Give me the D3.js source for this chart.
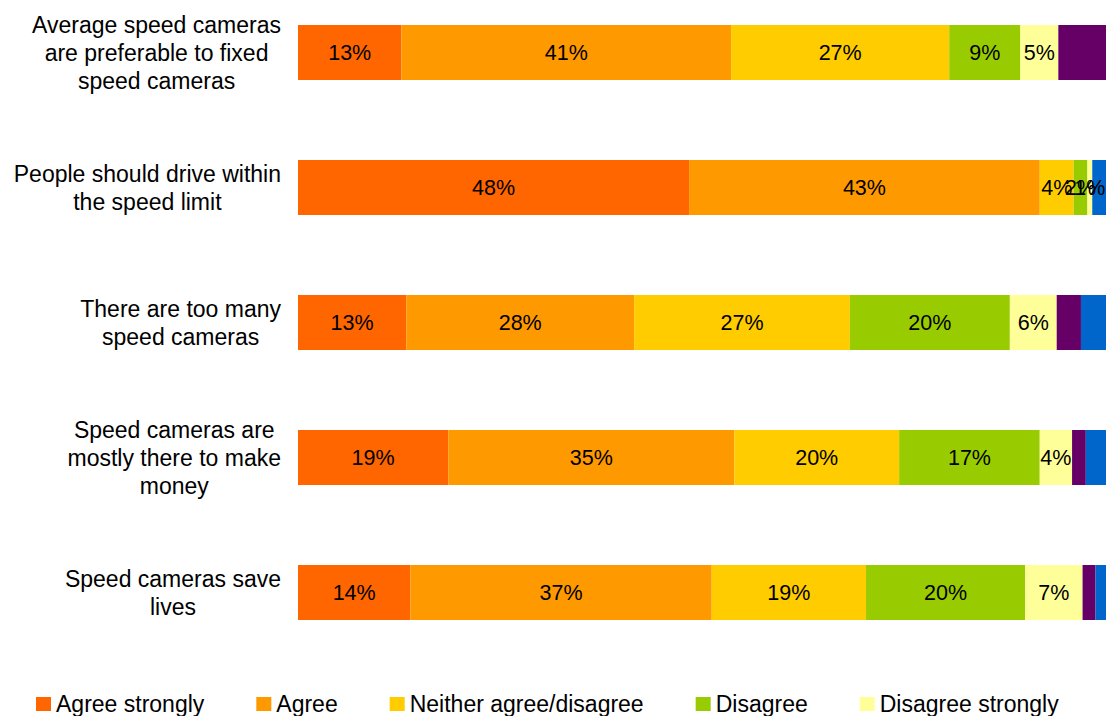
<!DOCTYPE html>
<html><head><meta charset="utf-8">
<script src="https://cdn.jsdelivr.net/npm/d3@7"></script>
<style>
html,body{margin:0;padding:0;background:#fff;overflow:hidden;}
svg{display:block;font-family:"Liberation Sans",Arial,sans-serif;}
</style></head>
<body>
<svg id="chart" width="1106" height="716"></svg>
<script>
const categories = [
  "Average speed cameras are preferable to fixed speed cameras",
  "People should drive within the speed limit",
  "There are too many speed cameras",
  "Speed cameras are mostly there to make money",
  "Speed cameras save lives"
];
const categoryLines = [
  ["Average speed cameras", "are preferable to fixed", "speed cameras"],
  ["People should drive within", "the speed limit"],
  ["There are too many", "speed cameras"],
  ["Speed cameras are", "mostly there to make", "money"],
  ["Speed cameras save", "lives"]
];
const seriesNames = ["Agree strongly", "Agree", "Neither agree/disagree", "Disagree", "Disagree strongly", "Don't know", "No answer"];
const seriesColors = ["#FF6600", "#FF9900", "#FFCC00", "#99CC00", "#FFFF99", "#660066", "#0066CC"];
const labelledSeries = [true, true, true, true, true, false, false];
// percentages per category, in series order
const agreeStrongly    = [12.8, 48.4, 13.4, 18.6, 13.9];
const agree            = [40.8, 43.4, 28.2, 35.4, 37.3];
const neither          = [27.0,  4.2, 26.7, 20.4, 19.1];
const disagree         = [ 8.8,  1.7, 19.8, 17.4, 19.7];
const disagreeStrongly = [ 4.7,  0.6,  5.8,  4.0,  7.1];
const dontKnow         = [ 5.9,  0.0,  3.0,  1.7,  1.6];
const noAnswer         = [ 0.0,  1.7,  3.1,  2.5,  1.3];
const xDomain = [0, 100];

const seriesValues = [agreeStrongly, agree, neither, disagree, disagreeStrongly, dontKnow, noAnswer];
const rows = categories.map((c, i) => {
  const r = {category: c};
  seriesNames.forEach((s, j) => r[s] = seriesValues[j][i]);
  return r;
});

const W = 1106;
const svg = d3.select("#chart");
const x = d3.scaleLinear().domain(xDomain).range([298, 1106]);
const y = d3.scaleBand().domain(categories).range([-15, 660]).paddingInner(0.5926).paddingOuter(0.2963);
const color = d3.scaleOrdinal().domain(seriesNames).range(seriesColors);

const stacked = d3.stack().keys(seriesNames)(rows);

const g = svg.append("g");
const layers = g.selectAll("g.layer").data(stacked).join("g")
  .attr("class", "layer")
  .attr("fill", d => color(d.key));
layers.selectAll("rect").data(d => d).join("rect")
  .attr("x", d => x(d[0]))
  .attr("y", d => y(d.data.category))
  .attr("width", d => Math.max(0, x(d[1]) - x(d[0])))
  .attr("height", y.bandwidth());

// value labels
stacked.forEach((layer, j) => {
  if (!labelledSeries[j]) return;
  g.selectAll(null).data(layer.filter(d => d[1] - d[0] > 0)).join("text")
    .attr("x", d => (x(d[0]) + x(d[1])) / 2)
    .attr("y", d => y(d.data.category) + y.bandwidth() / 2)
    .attr("dy", "0.35em")
    .attr("text-anchor", "middle")
    .attr("font-size", 21.5)
    .attr("fill", "#000")
    .text(d => Math.round(d[1] - d[0]) + "%");
});

// category labels: centered block, right-aligned to axis
const labelRight = 281, lineH = 28;
categories.forEach((c, i) => {
  const lines = categoryLines[i];
  const grp = svg.append("g");
  const texts = lines.map((ln, k) => grp.append("text")
    .attr("font-size", 23).attr("fill", "#000")
    .attr("text-anchor", "middle")
    .attr("dy", "0.35em")
    .attr("y", y(c) + y.bandwidth() / 2 + (k - (lines.length - 1) / 2) * lineH)
    .text(ln));
  const maxW = d3.max(texts, t => t.node().getComputedTextLength());
  texts.forEach(t => t.attr("x", labelRight - maxW / 2));
});

// legend (flow layout; entries that start beyond the visible width are not drawn)
const legend = svg.append("g");
let lx = 36;
const ly = 704;
seriesNames.forEach((s, j) => {
  if (lx >= W) return;
  legend.append("rect").attr("x", lx).attr("y", ly - 7).attr("width", 15).attr("height", 14).attr("fill", color(s));
  const t = legend.append("text").attr("x", lx + 20).attr("y", ly).attr("dy", "0.35em")
    .attr("font-size", 23).attr("fill", "#000").text(s);
  lx = lx + 20 + t.node().getComputedTextLength() + 52;
});
</script>
</body></html>
